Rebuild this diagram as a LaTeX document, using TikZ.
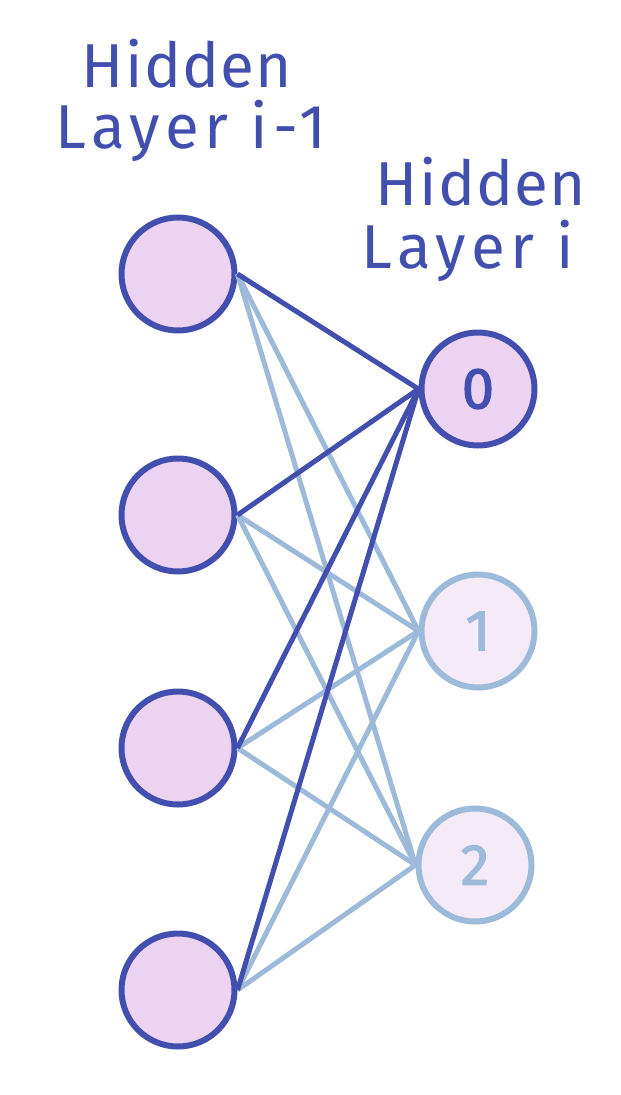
\documentclass[tikz,border=0pt]{standalone}
\usepackage{fontspec}
\setmainfont{Fira Sans}
\definecolor{dk}{HTML}{434FAE}
\definecolor{lt}{HTML}{9DBADA}
\definecolor{fdk}{HTML}{EDD3F2}
\definecolor{flt}{HTML}{F5EBF8}
\tikzset{
  neuron/.style={circle, draw=dk, fill=fdk, line width=6pt, minimum size=113pt, inner sep=0pt},
  lneuron/.style={circle, draw=lt, fill=flt, line width=6pt, minimum size=113pt, inner sep=0pt, text=lt},
  strong/.style={draw=dk, line width=5pt},
  weak/.style={draw=lt, line width=5pt},
  lbl/.style={text=dk, font=\fontsize{62}{60}\selectfont\addfontfeatures{LetterSpace=2}, anchor=base, inner sep=0pt},
  wide/.style={font=\fontsize{62}{60}\selectfont\addfontfeatures{LetterSpace=9}},
  num/.style={font=\fontsize{58}{60}\selectfont\addfontfeatures{FakeBold=2}}
}
\begin{document}
\begin{tikzpicture}[x=1pt,y=-1pt]
\useasboundingbox (0,0) rectangle (621,1095);
\node[neuron] (a1) at (178,274) {};
\node[neuron] (a2) at (178,515) {};
\node[neuron] (a3) at (178,748) {};
\node[neuron] (a4) at (178,990) {};
\node[neuron, text=dk, num] (b0) at (478,389) {0};
\node[lneuron, num] (b1) at (478,631) {1};
\node[lneuron, num] (b2) at (475,865) {2};
\foreach \i in {1,2,3,4}{
  \draw[weak] (a\i.east) -- (b1.west);
  \draw[weak] (a\i.east) -- (b2.west);
}
\foreach \i in {1,2,3,4}{
  \draw[strong] (a\i.east) -- (b0.west);
}
\node[lbl] (t1a) at (187,87) {Hidden};
\node[lbl, wide] (t1b) at (191,148) {Layer i-1};
\node[lbl] (t2a) at (481,205) {Hidden};
\node[lbl, wide] (t2b) at (468,268) {Layer i};
\end{tikzpicture}
\end{document}
